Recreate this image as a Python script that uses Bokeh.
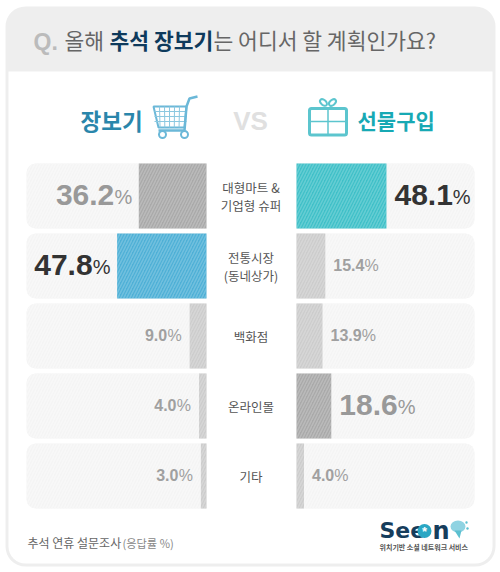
from bokeh.plotting import figure
from bokeh.models import Range1d
from bokeh.core.properties import value
from bokeh.embed import file_html
from bokeh.resources import INLINE

categories = [["대형마트 &", "기업형 슈퍼"], ["전통시장", "(동네상가)"], ["백화점"], ["온라인몰"], ["기타"]]
market_values = [36.2, 47.8, 9.0, 4.0, 3.0]
gift_values = [48.1, 15.4, 13.9, 18.6, 4.0]
market_colors = ["#a9a9a9", "#4eb0d6", "#cccccc", "#cccccc", "#cccccc"]
gift_colors = ["#3fc0c8", "#cccccc", "#cccccc", "#a9a9a9", "#cccccc"]
market_big = [True, True, False, False, False]
gift_big = [True, False, False, True, False]
market_text = ["#999999", "#333333", "#a0a0a0", "#a0a0a0", "#a0a0a0"]
gift_text = ["#333333", "#a0a0a0", "#a0a0a0", "#999999", "#a0a0a0"]

KR = value("Noto Sans CJK KR")
AR = value("Liberation Sans")
DV = value("DejaVu Sans")

PX = 1.87
p = figure(width=500, height=572, output_backend="svg", toolbar_location=None,
           x_range=Range1d(0, 500), y_range=Range1d(572, 0), min_border=0,
           outline_line_color=None, background_fill_color="white", border_fill_color="white")
p.axis.visible = False
p.grid.visible = False

p.extra_x_ranges = {
    "mv": Range1d(206 / PX, (206 - 500) / PX),
    "gv": Range1d(-296 / PX, (500 - 296) / PX),
}
p.extra_y_ranges = {"row": Range1d((572 - 195.5) / 70, -195.5 / 70)}
rows = list(range(len(categories)))
H = 65 / 70

# frame
p.quad(left=5, right=495, top=6, bottom=566, fill_color="#eeeeee", line_color=None, border_radius=20)
p.quad(left=8, right=492, top=71, bottom=563, fill_color="#ffffff", line_color=None,
       border_radius=(0, 0, 17, 17))

# tracks
p.hbar(y=rows, left=180 / PX, right=0, height=H, y_range_name="row", x_range_name="mv",
       fill_color="#f4f4f4", line_color=None, hatch_pattern="right_diagonal_line", hatch_color="#f8f8f8",
       hatch_scale=6, hatch_weight=1.5, border_radius=(9, 0, 0, 9))
p.hbar(y=rows, left=0, right=178 / PX, height=H, y_range_name="row", x_range_name="gv",
       fill_color="#f4f4f4", line_color=None, hatch_pattern="right_diagonal_line", hatch_color="#f8f8f8",
       hatch_scale=6, hatch_weight=1.5, border_radius=(0, 9, 9, 0))

# bars
for vals, cols, rng in ((market_values, market_colors, "mv"), (gift_values, gift_colors, "gv")):
    p.hbar(y=rows, left=0, right=vals, height=H, y_range_name="row", x_range_name=rng,
           fill_color=cols, line_color=None, hatch_pattern="right_diagonal_line", hatch_color="#ffffff",
           hatch_alpha=0.2, hatch_scale=6, hatch_weight=1.5)

# value labels
for i in rows:
    v = market_values[i]
    big = market_big[i]
    num, pct = (30, 20) if big else (16, 16)
    pw = 18 if big else 14.5
    off = -6.5 if big else -8
    dy = -1.5 if big else -1
    p.text(x=[v], y=[i], text=[f"{v:.1f}"], x_range_name="mv", y_range_name="row", text_font=AR,
           text_font_style="bold", text_font_size=f"{num}px", text_color=market_text[i], text_align="right",
           text_baseline="middle", x_offset=off - pw, y_offset=dy)
    p.text(x=[v], y=[i], text=["%"], x_range_name="mv", y_range_name="row", text_font=AR,
           text_font_style="normal", text_font_size=f"{pct}px", text_color=market_text[i], text_align="right",
           text_baseline="middle", x_offset=off, y_offset=dy + (2 if big else 0))
    v = gift_values[i]
    big = gift_big[i]
    num, pct = (30, 20) if big else (16, 16)
    dy = -1.5 if big else -1
    label = f"{v:.1f}"
    nw = (len(label) - 1) * 0.556 * num + 0.278 * num
    p.text(x=[v], y=[i], text=[label], x_range_name="gv", y_range_name="row", text_font=AR,
           text_font_style="bold", text_font_size=f"{num}px", text_color=gift_text[i], text_align="left",
           text_baseline="middle", x_offset=8, y_offset=dy)
    p.text(x=[v], y=[i], text=["%"], x_range_name="gv", y_range_name="row", text_font=AR,
           text_font_style="normal", text_font_size=f"{pct}px", text_color=gift_text[i], text_align="left",
           text_baseline="middle", x_offset=8 + nw, y_offset=dy + (2 if big else 0))

# category labels
for i, lines in enumerate(categories):
    offs = [-9, 9] if len(lines) == 2 else [0]
    for line, o in zip(lines, offs):
        p.text(x=[250.5], y=[i], text=[line], y_range_name="row", text_font=KR, text_font_size="12.5px",
               text_color="#555555", text_align="center", text_baseline="middle", y_offset=o)

def t(x, y, s, size, color, font=KR, style="normal", align="left"):
    p.text(x=[x], y=[y], text=[s], text_font=font, text_font_size=f"{size}px", text_color=color,
           text_font_style=style, text_align=align, text_baseline="middle")

# title
t(33, 41, "Q.", 23, "#bbbbbb", AR, "bold")
t(64, 39, "올해", 21.5, "#666666")
t(109, 39, "추석 장보기", 21.5, "#0e3a5c", KR, "bold")
t(213, 39, "는 어디서 할 계획인가요?", 21.5, "#666666")

# column heads
t(80, 119, "장보기", 22.5, "#2a86ab", KR, "bold")
t(357, 119, "선물구입", 21, "#17a9b4", KR, "bold")
t(250, 120, "VS", 26, "#e0e0e0", AR, "bold", "center")

# cart icon
CART = "#6bb8d8"
p.patch([153, 186, 184, 158], [106, 106, 127, 127], fill_color="#ffffff", line_color=CART, line_width=2)
for gx in (159, 164, 169, 174, 179):
    p.line([gx, gx + (gx - 170) * -0.05], [106, 127], line_color="#8cc8e0", line_width=1)
for gy in (111, 116, 121):
    p.line([154, 186], [gy, gy], line_color="#8cc8e0", line_width=1)
p.line([197, 189, 186, 184, 158], [96, 98, 106, 130, 130], line_color=CART, line_width=2.5)
p.circle(x=[162, 184], y=[134, 134], radius=3.5, fill_color="#ffffff", line_color=CART, line_width=2)

# gift icon
GIFT = "#5cc5ce"
p.quad(left=309, right=346, top=108, bottom=134.5, fill_color="#ffffff", line_color=GIFT, line_width=3, border_radius=2)
p.line([327.5, 327.5], [107, 135], line_color=GIFT, line_width=1.5)
p.line([308, 347], [121, 121], line_color=GIFT, line_width=1.5)
p.ellipse(x=[323, 332], y=[102, 102], width=8, height=5, angle=[-0.7, 0.7], fill_color=None,
          line_color=GIFT, line_width=2)

# footer
t(27, 542, "추석 연휴 설문조사", 12, "#666666")
t(122, 542, "(응답률 %)", 11.2, "#888888")

# logo
t(379, 530, "See", 22, "#163d5c", DV, "bold")
p.circle(x=[424], y=[530.5], radius=7, fill_color="#2aa7c4", line_color=None)
t(424, 531, "*", 13, "#ffffff", AR, "bold", "center")
t(432, 530, "n", 24, "#163d5c", DV, "bold")
p.ellipse(x=[457.5], y=[526], width=15, height=12, fill_color="#8fd3e2", line_color=None)
p.patch([454, 461, 459], [530, 530, 538], fill_color="#5cc0d0", line_color=None)
p.circle(x=[466, 467], y=[522, 528], radius=1.2, fill_color="#5cc0d0", line_color=None)
t(379, 546, "위치기반 소셜 네트워크 서비스", 7, "#555555", KR, "bold")

open("out.html", "w").write(file_html(p, INLINE))
